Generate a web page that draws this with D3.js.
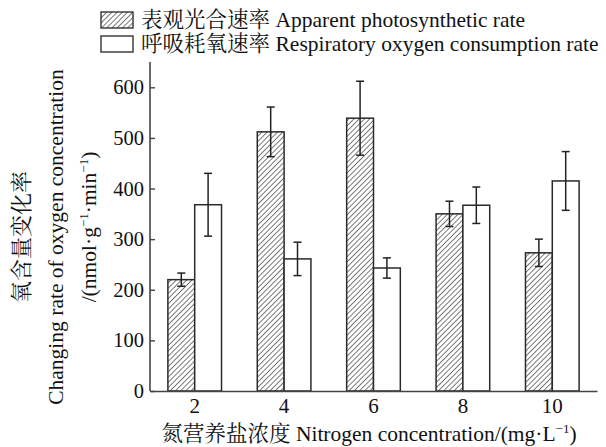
<!DOCTYPE html>
<html>
<head>
<meta charset="utf-8">
<script src="https://cdn.jsdelivr.net/npm/d3@7"></script>
<style>
  body { margin: 0; background: #fff; }
</style>
</head>
<body>
<svg id="chart" width="606" height="447"></svg>
<script>
// data
var categories = ["2", "4", "6", "8", "10"];
var seriesZh = ["表观光合速率", "呼吸耗氧速率"];
var seriesEn = ["Apparent photosynthetic rate", "Respiratory oxygen consumption rate"];
var photoValues = [220, 512, 539, 350, 273];
var photoErrors = [13, 49, 73, 25, 27];
var respValues = [368, 261, 243, 367, 415];
var respErrors = [62, 33, 20, 36, 58];
var yTicks = [0, 100, 200, 300, 400, 500, 600];

var LAT = "Liberation Serif", CJK = "Noto Serif CJK SC";
var svg = d3.select("#chart");
var m = {left: 150, right: 597, top: 62, bottom: 391};

var defs = svg.append("defs");
var pat = defs.append("pattern")
    .attr("id", "hatch")
    .attr("patternUnits", "userSpaceOnUse")
    .attr("width", 3.7).attr("height", 3.7)
    .attr("patternTransform", "rotate(45)");
pat.append("rect").attr("width", 3.7).attr("height", 3.7).attr("fill", "#fff");
pat.append("line")
    .attr("x1", 0).attr("y1", 0).attr("x2", 0).attr("y2", 3.7)
    .attr("stroke", "#222").attr("stroke-width", 1.2);

var x0 = d3.scaleBand().domain(categories).range([m.left, m.right]).paddingInner(0.4).paddingOuter(0.2);
var x1 = d3.scaleBand().domain([0, 1]).range([0, x0.bandwidth()]);
var y = d3.scaleLinear().domain([0, 650]).range([m.bottom, m.top]);

var data = categories.map(function(c, i) {
  return [
    {cat: c, s: 0, v: photoValues[i], e: photoErrors[i]},
    {cat: c, s: 1, v: respValues[i], e: respErrors[i]}
  ];
});

var g = svg.append("g");
var groups = g.selectAll(".grp").data(data).enter().append("g")
    .attr("transform", function(d) { return "translate(" + x0(d[0].cat) + ",0)"; });

groups.selectAll("rect").data(function(d) { return d; }).enter().append("rect")
    .attr("x", function(d) { return x1(d.s); })
    .attr("y", function(d) { return y(d.v); })
    .attr("width", x1.bandwidth())
    .attr("height", function(d) { return y(0) - y(d.v); })
    .attr("fill", function(d) { return d.s === 0 ? "url(#hatch)" : "#fff"; })
    .attr("stroke", "#2a2a2a").attr("stroke-width", 1.5);

// error bars
var eb = groups.selectAll(".err").data(function(d) { return d; }).enter().append("g")
    .attr("stroke", "#222").attr("stroke-width", 1.5);
eb.append("line")
    .attr("x1", function(d) { return x1(d.s) + x1.bandwidth() / 2; })
    .attr("x2", function(d) { return x1(d.s) + x1.bandwidth() / 2; })
    .attr("y1", function(d) { return y(d.v + d.e); })
    .attr("y2", function(d) { return y(d.v - d.e); });
[1, -1].forEach(function(sign) {
  eb.append("line")
    .attr("x1", function(d) { return x1(d.s) + x1.bandwidth() / 2 - 4; })
    .attr("x2", function(d) { return x1(d.s) + x1.bandwidth() / 2 + 4; })
    .attr("y1", function(d) { return y(d.v + sign * d.e); })
    .attr("y2", function(d) { return y(d.v + sign * d.e); });
});

// axes
var yAxis = g.append("g")
    .attr("transform", "translate(" + m.left + ",0)")
    .call(d3.axisLeft(y).tickValues(yTicks).tickSizeInner(-5).tickSizeOuter(0).tickPadding(4));
yAxis.select(".domain").attr("stroke", "#444").attr("stroke-width", 1.6)
    .attr("d", "M0," + y(0) + "V" + m.top);
yAxis.selectAll(".tick line").attr("stroke", "#444").attr("stroke-width", 1.4);
yAxis.selectAll(".tick text").attr("font-family", LAT).attr("font-size", 20.5).attr("fill", "#111").attr("x", -6);

var xAxis = g.append("g")
    .attr("transform", "translate(0," + m.bottom + ")")
    .call(d3.axisBottom(x0).tickSize(0).tickPadding(7));
xAxis.select(".domain").attr("stroke", "#444").attr("stroke-width", 1.6);
xAxis.selectAll(".tick text").attr("font-family", LAT).attr("font-size", 21).attr("fill", "#111");

function mixed(sel, zh, en, size) {
  sel.append("tspan").attr("font-family", CJK).attr("font-size", size).text(zh + " ");
  return sel.append("tspan").attr("font-family", LAT).attr("font-size", size).text(en);
}
function sup(sel, txt, size) {
  sel.append("tspan").attr("font-family", LAT).attr("font-size", 13).attr("dy", -8).text("−1");
  sel.append("tspan").attr("font-family", LAT).attr("font-size", size).attr("dy", 8).text(txt);
}

// x title
var xt = svg.append("text").attr("x", 369).attr("y", 441).attr("text-anchor", "middle").attr("fill", "#111");
mixed(xt, "氮营养盐浓度", "Nitrogen concentration/(mg·L", 21.5);
sup(xt, ")", 21.5);

// y title
var cy = 237;
svg.append("text").attr("transform", "translate(29," + cy + ") rotate(-90)").attr("fill", "#111")
    .attr("text-anchor", "middle").attr("font-family", CJK).attr("font-size", 22).text("氧含量变化率");
svg.append("text").attr("transform", "translate(63," + cy + ") rotate(-90)").attr("fill", "#111")
    .attr("text-anchor", "middle").attr("font-family", LAT).attr("font-size", 21.5).text("Changing rate of oxygen concentration");
var yt = svg.append("text").attr("transform", "translate(96," + (cy - 10) + ") rotate(-90)").attr("fill", "#111")
    .attr("text-anchor", "middle").attr("font-family", LAT).attr("font-size", 21.5);
yt.append("tspan").text("/(nmol·g");
sup(yt, "·min", 21.5);
sup(yt, ")", 21.5);

// legend
var leg = svg.append("g").selectAll("g").data(seriesEn).enter().append("g")
    .attr("transform", function(d, i) { return "translate(101," + (12 + i * 24) + ")"; });
leg.append("rect").attr("width", 32).attr("height", 16)
    .attr("fill", function(d, i) { return i === 0 ? "url(#hatch)" : "#fff"; })
    .attr("stroke", "#333").attr("stroke-width", 1.4);
leg.append("text").attr("x", 40).attr("y", 15).attr("fill", "#111")
    .each(function(d, i) { mixed(d3.select(this), seriesZh[i], d, 21.5); });
</script>
</body>
</html>
